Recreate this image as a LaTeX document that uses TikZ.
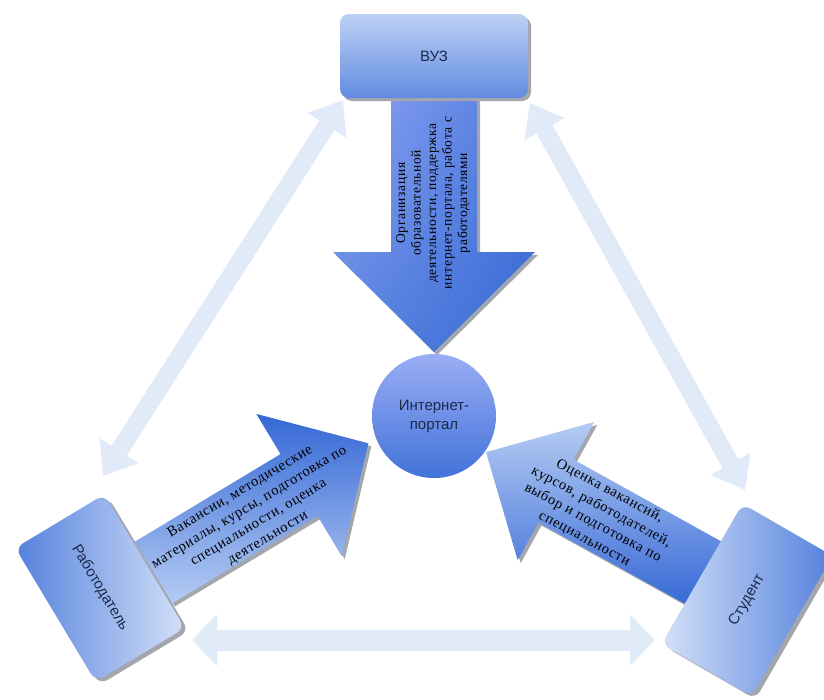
\documentclass[tikz,border=0pt]{standalone}
\usepackage{fontspec}
\setmainfont{Liberation Sans}
\newfontfamily\arrfont{Liberation Serif}[LetterSpace=5]
\usetikzlibrary{arrows.meta,shadings}
\definecolor{navy}{HTML}{1B2A4A}
\definecolor{pale}{HTML}{E1EAF8}
\definecolor{shadowgray}{HTML}{A3A6AD}
\definecolor{bdark}{HTML}{3568D6}
\definecolor{blight}{HTML}{B5CCF3}
\begin{document}
\begin{tikzpicture}[x=1pt,y=-1pt,
  palediag/.style={draw=pale, line width=18pt, arrows={Triangle[width=44pt,length=30pt]-Triangle[width=44pt,length=30pt]}},
  palehor/.style={draw=pale, line width=21pt, arrows={Triangle[width=50pt,length=25pt]-Triangle[width=50pt,length=25pt]}},
  boxsh/.style={fill=shadowgray, rounded corners=9pt, inner sep=0pt},
  bluebox/.style={rounded corners=9pt, inner sep=0pt, text=navy, font=\fontsize{15}{18}\selectfont},
  arrtext/.style={align=center, inner sep=0pt, text=black, font=\arrfont\fontsize{14.5}{18}\selectfont},
  arrtexttop/.style={align=center, inner sep=0pt, text=black, font=\arrfont\fontsize{13.5}{15.5}\selectfont}
]
\useasboundingbox (0,0) rectangle (824,699);
\fill[white] (0,0) rectangle (824,699);

% pale double arrows
\coordinate (la) at (343,100);
\coordinate (lb) at (103,476);
\coordinate (ra) at (530,103);
\coordinate (rb) at (745,490);
\coordinate (ha) at (192,640);
\coordinate (hb) at (655,640);
\draw[palediag] (lb) -- (la);
\draw[palediag] (ra) -- (rb);
\draw[palehor] (ha) -- (hb);

% top big arrow
\fill[shadowgray, shift={(3,3)}] (391,88) -- (477,88) -- (477,252) -- (535,252) -- (434,352) -- (333,252) -- (391,252) -- cycle;
\shade[upper left=blue!20!blight, upper right=bdark!80!blight, lower left=bdark!70!blight, lower right=bdark]
  (391,88) -- (477,88) -- (477,252) -- (535,252) -- (434,352) -- (333,252) -- (391,252) -- cycle;

% left big arrow
\fill[shadowgray, shift={(3,3)}] (134.8,541.7) -- (280.5,454.1) -- (256.3,413.9) -- (368.4,443.3) -- (341.7,556.1) -- (317.5,515.9) -- (171.8,603.5) -- cycle;
\shade[top color=bdark, bottom color=blight]
  (134.8,541.7) -- (280.5,454.1) -- (256.3,413.9) -- (368.4,443.3) -- (341.7,556.1) -- (317.5,515.9) -- (171.8,603.5) -- cycle;

% right big arrow
\fill[shadowgray, shift={(3,3)}] (726.6,544.4) -- (573.5,459.5) -- (594.3,421.9) -- (486,452.2) -- (517.7,560.1) -- (538.5,522.5) -- (691.6,607.4) -- cycle;
\shade[top color=blight, bottom color=bdark]
  (726.6,544.4) -- (573.5,459.5) -- (594.3,421.9) -- (486,452.2) -- (517.7,560.1) -- (538.5,522.5) -- (691.6,607.4) -- cycle;

% arrow texts
\node[arrtexttop, rotate=90] (ttop) at (433,203) {Организация\\образовательной\\деятельности, поддержка\\интернет-портала, работа с\\работодателями};
\node[arrtext, rotate=31] (tleft) at (254,515) {Вакансии, методические\\материалы, курсы, подготовка по\\специальности, оценка\\деятельности};
\node[arrtext, rotate=-28] (tright) at (597,515) {Оценка вакансий,\\курсов, работодателей,\\выбор и подготовка по\\специальности};

% circle
\node[circle, minimum size=124pt, inner sep=0pt, top color=blue!15!blight, bottom color=bdark!90!blight, align=center, text=navy, font=\fontsize{15}{19}\selectfont] (portal) at (434,416) {Интернет-\\портал};

% boxes
\node[boxsh, minimum width=188pt, minimum height=84pt] (vuzsh) at (437,59) {};
\node[bluebox, minimum width=188pt, minimum height=84pt, top color=blight!90!white, bottom color=bdark!65!blight] (vuz) at (434,56) {ВУЗ};

\node[boxsh, rotate=-59, minimum width=156pt, minimum height=104pt] (empsh) at (104,591) {};
\node[bluebox, rotate=-59, minimum width=156pt, minimum height=104pt, left color=bdark!75!blight, right color=blight!60!white] (emp) at (100,588) {Работодатель};

\node[boxsh, rotate=60, minimum width=162pt, minimum height=104pt] (stsh) at (751,603) {};
\node[bluebox, rotate=60, minimum width=162pt, minimum height=104pt, left color=blight!60!white, right color=bdark!75!blight] (st) at (747,600) {Студент};
\end{tikzpicture}
\end{document}
